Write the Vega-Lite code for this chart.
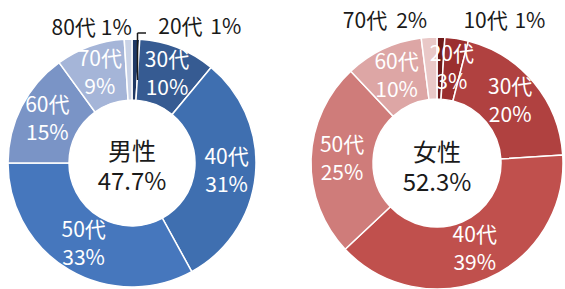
{
  "$schema": "https://vega.github.io/schema/vega-lite/v6.json",
  "padding": 0,
  "background": "#ffffff",
  "spacing": 20,
  "config": {"view": {"stroke": null}, "text": {"font": "Noto Sans CJK JP"}},
  "datasets": {
    "ages": [
      {"gender": "男性", "age": "20代", "pct": 0.01},
      {"gender": "男性", "age": "30代", "pct": 0.10},
      {"gender": "男性", "age": "40代", "pct": 0.31},
      {"gender": "男性", "age": "50代", "pct": 0.33},
      {"gender": "男性", "age": "60代", "pct": 0.15},
      {"gender": "男性", "age": "70代", "pct": 0.09},
      {"gender": "男性", "age": "80代", "pct": 0.01},
      {"gender": "女性", "age": "10代", "pct": 0.01},
      {"gender": "女性", "age": "20代", "pct": 0.03},
      {"gender": "女性", "age": "30代", "pct": 0.20},
      {"gender": "女性", "age": "40代", "pct": 0.39},
      {"gender": "女性", "age": "50代", "pct": 0.25},
      {"gender": "女性", "age": "60代", "pct": 0.10},
      {"gender": "女性", "age": "70代", "pct": 0.02}
    ],
    "totals": [
      {"gender": "男性", "share": 0.477},
      {"gender": "女性", "share": 0.523}
    ]
  },
  "resolve": {"scale": {"color": "independent", "x": "independent", "y": "independent", "theta": "independent"}},
  "hconcat": [
    {
      "width": 264,
      "height": 289,
      "layer": [
        {
          "data": {"name": "ages"},
          "transform": [{"filter": "datum.gender === '男性'"}],
          "mark": {"type": "arc", "innerRadius": 63, "outerRadius": 124, "stroke": "#ffffff", "strokeWidth": 1.5},
          "encoding": {
            "x": {"datum": 0, "type": "quantitative", "scale": {"domain": [-132, 132], "nice": false, "zero": false}, "axis": null},
            "y": {"datum": 0, "type": "quantitative", "scale": {"domain": [-126, 163], "nice": false, "zero": false}, "axis": null},
            "theta": {"field": "pct", "type": "quantitative", "stack": true},
            "order": {"field": "age", "type": "ordinal"},
            "color": {"field": "age", "type": "nominal", "legend": null,
              "scale": {"domain": ["20代", "30代", "40代", "50代", "60代", "70代", "80代"],
                        "range": ["#1f3864", "#365b92", "#3f6fb0", "#4677bd", "#7a94c6", "#a5b5d8", "#c9d2e6"]}}
          }
        },
        {
          "data": {"name": "ages"},
          "transform": [{"filter": "datum.gender === '男性'"}],
          "mark": {"type": "text", "radius": 95, "dy": -14, "fontSize": 21, "color": "#ffffff", "clip": true},
          "encoding": {
            "x": {"datum": 0, "type": "quantitative"},
            "y": {"datum": 0, "type": "quantitative"},
            "theta": {"field": "pct", "type": "quantitative", "stack": true},
            "order": {"field": "age", "type": "ordinal"},
            "text": {"condition": {"test": "datum.pct >= 0.025", "field": "age"}, "value": ""}
          }
        },
        {
          "data": {"name": "ages"},
          "transform": [{"filter": "datum.gender === '男性'"}],
          "mark": {"type": "text", "radius": 95, "dy": 14, "fontSize": 21, "color": "#ffffff", "clip": true},
          "encoding": {
            "x": {"datum": 0, "type": "quantitative"},
            "y": {"datum": 0, "type": "quantitative"},
            "theta": {"field": "pct", "type": "quantitative", "stack": true},
            "order": {"field": "age", "type": "ordinal"},
            "text": {"condition": {"test": "datum.pct >= 0.025", "field": "pct", "format": ".0%"}, "value": ""}
          }
        },
        {
          "data": {"name": "ages"},
          "transform": [{"filter": "datum.gender === '男性'"}],
          "mark": {"type": "text", "radius": 135, "align": "left", "dx": 22, "fontSize": 21, "color": "#1a1a1a", "clip": true},
          "encoding": {
            "x": {"datum": 0, "type": "quantitative"},
            "y": {"datum": 0, "type": "quantitative"},
            "theta": {"field": "pct", "type": "quantitative", "stack": true},
            "order": {"field": "age", "type": "ordinal"},
            "text": {"condition": {"test": "datum.age === '20代'", "field": "age"}, "value": ""}
          }
        },
        {
          "data": {"name": "ages"},
          "transform": [{"filter": "datum.gender === '男性'"}],
          "mark": {"type": "text", "radius": 135, "align": "left", "dx": 74, "fontSize": 21, "color": "#1a1a1a", "clip": true},
          "encoding": {
            "x": {"datum": 0, "type": "quantitative"},
            "y": {"datum": 0, "type": "quantitative"},
            "theta": {"field": "pct", "type": "quantitative", "stack": true},
            "order": {"field": "age", "type": "ordinal"},
            "text": {"condition": {"test": "datum.age === '20代'", "field": "pct", "format": ".0%"}, "value": ""}
          }
        },
        {
          "data": {"name": "ages"},
          "transform": [{"filter": "datum.gender === '男性'"}],
          "mark": {"type": "text", "radius": 134, "align": "right", "dx": -32, "fontSize": 21, "color": "#1a1a1a", "clip": true},
          "encoding": {
            "x": {"datum": 0, "type": "quantitative"},
            "y": {"datum": 0, "type": "quantitative"},
            "theta": {"field": "pct", "type": "quantitative", "stack": true},
            "order": {"field": "age", "type": "ordinal"},
            "text": {"condition": {"test": "datum.age === '80代'", "field": "age"}, "value": ""}
          }
        },
        {
          "data": {"name": "ages"},
          "transform": [{"filter": "datum.gender === '男性'"}],
          "mark": {"type": "text", "radius": 134, "align": "right", "dx": 4, "fontSize": 21, "color": "#1a1a1a", "clip": true},
          "encoding": {
            "x": {"datum": 0, "type": "quantitative"},
            "y": {"datum": 0, "type": "quantitative"},
            "theta": {"field": "pct", "type": "quantitative", "stack": true},
            "order": {"field": "age", "type": "ordinal"},
            "text": {"condition": {"test": "datum.age === '80代'", "field": "pct", "format": ".0%"}, "value": ""}
          }
        },
        {
          "data": {"values": [{}]},
          "mark": {"type": "rule", "color": "#1a1a1a", "strokeWidth": 1.5},
          "encoding": {
            "x": {"datum": 5.5, "type": "quantitative"},
            "y": {"datum": 83, "type": "quantitative"},
            "y2": {"datum": 130}
          }
        },
        {
          "data": {"values": [{}]},
          "mark": {"type": "rule", "color": "#1a1a1a", "strokeWidth": 1.5},
          "encoding": {
            "x": {"datum": 5.5, "type": "quantitative"},
            "x2": {"datum": 14},
            "y": {"datum": 130, "type": "quantitative"}
          }
        },
        {
          "data": {"name": "totals"},
          "transform": [{"filter": "datum.gender === '男性'"}],
          "mark": {"type": "text", "dy": -10, "fontSize": 24, "color": "#1a1a1a"},
          "encoding": {
            "x": {"datum": 0, "type": "quantitative"},
            "y": {"datum": 0, "type": "quantitative"},
            "text": {"field": "gender"}
          }
        },
        {
          "data": {"name": "totals"},
          "transform": [{"filter": "datum.gender === '男性'"}],
          "mark": {"type": "text", "dy": 20, "fontSize": 24, "color": "#1a1a1a"},
          "encoding": {
            "x": {"datum": 0, "type": "quantitative"},
            "y": {"datum": 0, "type": "quantitative"},
            "text": {"field": "share", "format": ".1%"}
          }
        }
      ]
    },
    {
      "width": 281,
      "height": 289,
      "layer": [
        {
          "data": {"name": "ages"},
          "transform": [{"filter": "datum.gender === '女性'"}],
          "mark": {"type": "arc", "innerRadius": 64, "outerRadius": 126, "stroke": "#ffffff", "strokeWidth": 1.5},
          "encoding": {
            "x": {"datum": 0, "type": "quantitative", "scale": {"domain": [-153, 128], "nice": false, "zero": false}, "axis": null},
            "y": {"datum": 0, "type": "quantitative", "scale": {"domain": [-126, 163], "nice": false, "zero": false}, "axis": null},
            "theta": {"field": "pct", "type": "quantitative", "stack": true},
            "order": {"field": "age", "type": "ordinal"},
            "color": {"field": "age", "type": "nominal", "legend": null,
              "scale": {"domain": ["10代", "20代", "30代", "40代", "50代", "60代", "70代"],
                        "range": ["#6e1a1a", "#9b2f2f", "#b04140", "#c0504d", "#cf7c7a", "#dda6a5", "#e9c8c7"]}}
          }
        },
        {
          "data": {"name": "ages"},
          "transform": [{"filter": "datum.gender === '女性'"}],
          "mark": {"type": "text", "radius": 95, "dy": -14, "fontSize": 21, "color": "#ffffff", "clip": true},
          "encoding": {
            "x": {"datum": 0, "type": "quantitative"},
            "y": {"datum": 0, "type": "quantitative"},
            "theta": {"field": "pct", "type": "quantitative", "stack": true},
            "order": {"field": "age", "type": "ordinal"},
            "text": {"condition": {"test": "datum.pct >= 0.025", "field": "age"}, "value": ""}
          }
        },
        {
          "data": {"name": "ages"},
          "transform": [{"filter": "datum.gender === '女性'"}],
          "mark": {"type": "text", "radius": 95, "dy": 14, "fontSize": 21, "color": "#ffffff", "clip": true},
          "encoding": {
            "x": {"datum": 0, "type": "quantitative"},
            "y": {"datum": 0, "type": "quantitative"},
            "theta": {"field": "pct", "type": "quantitative", "stack": true},
            "order": {"field": "age", "type": "ordinal"},
            "text": {"condition": {"test": "datum.pct >= 0.025", "field": "pct", "format": ".0%"}, "value": ""}
          }
        },
        {
          "data": {"name": "ages"},
          "transform": [{"filter": "datum.gender === '女性'"}],
          "mark": {"type": "text", "radius": 141, "align": "left", "dx": 22, "fontSize": 21, "color": "#1a1a1a", "clip": true},
          "encoding": {
            "x": {"datum": 0, "type": "quantitative"},
            "y": {"datum": 0, "type": "quantitative"},
            "theta": {"field": "pct", "type": "quantitative", "stack": true},
            "order": {"field": "age", "type": "ordinal"},
            "text": {"condition": {"test": "datum.age === '10代'", "field": "age"}, "value": ""}
          }
        },
        {
          "data": {"name": "ages"},
          "transform": [{"filter": "datum.gender === '女性'"}],
          "mark": {"type": "text", "radius": 141, "align": "left", "dx": 73, "fontSize": 21, "color": "#1a1a1a", "clip": true},
          "encoding": {
            "x": {"datum": 0, "type": "quantitative"},
            "y": {"datum": 0, "type": "quantitative"},
            "theta": {"field": "pct", "type": "quantitative", "stack": true},
            "order": {"field": "age", "type": "ordinal"},
            "text": {"condition": {"test": "datum.age === '10代'", "field": "pct", "format": ".0%"}, "value": ""}
          }
        },
        {
          "data": {"name": "ages"},
          "transform": [{"filter": "datum.gender === '女性'"}],
          "mark": {"type": "text", "radius": 141, "align": "right", "dx": -41, "fontSize": 21, "color": "#1a1a1a", "clip": true},
          "encoding": {
            "x": {"datum": 0, "type": "quantitative"},
            "y": {"datum": 0, "type": "quantitative"},
            "theta": {"field": "pct", "type": "quantitative", "stack": true},
            "order": {"field": "age", "type": "ordinal"},
            "text": {"condition": {"test": "datum.age === '70代'", "field": "age"}, "value": ""}
          }
        },
        {
          "data": {"name": "ages"},
          "transform": [{"filter": "datum.gender === '女性'"}],
          "mark": {"type": "text", "radius": 141, "align": "right", "dx": -1, "fontSize": 21, "color": "#1a1a1a", "clip": true},
          "encoding": {
            "x": {"datum": 0, "type": "quantitative"},
            "y": {"datum": 0, "type": "quantitative"},
            "theta": {"field": "pct", "type": "quantitative", "stack": true},
            "order": {"field": "age", "type": "ordinal"},
            "text": {"condition": {"test": "datum.age === '70代'", "field": "pct", "format": ".0%"}, "value": ""}
          }
        },
        {
          "data": {"name": "totals"},
          "transform": [{"filter": "datum.gender === '女性'"}],
          "mark": {"type": "text", "dy": -9, "fontSize": 24, "color": "#1a1a1a"},
          "encoding": {
            "x": {"datum": 0, "type": "quantitative"},
            "y": {"datum": 0, "type": "quantitative"},
            "text": {"field": "gender"}
          }
        },
        {
          "data": {"name": "totals"},
          "transform": [{"filter": "datum.gender === '女性'"}],
          "mark": {"type": "text", "dy": 21, "fontSize": 24, "color": "#1a1a1a"},
          "encoding": {
            "x": {"datum": 0, "type": "quantitative"},
            "y": {"datum": 0, "type": "quantitative"},
            "text": {"field": "share", "format": ".1%"}
          }
        }
      ]
    }
  ]
}
